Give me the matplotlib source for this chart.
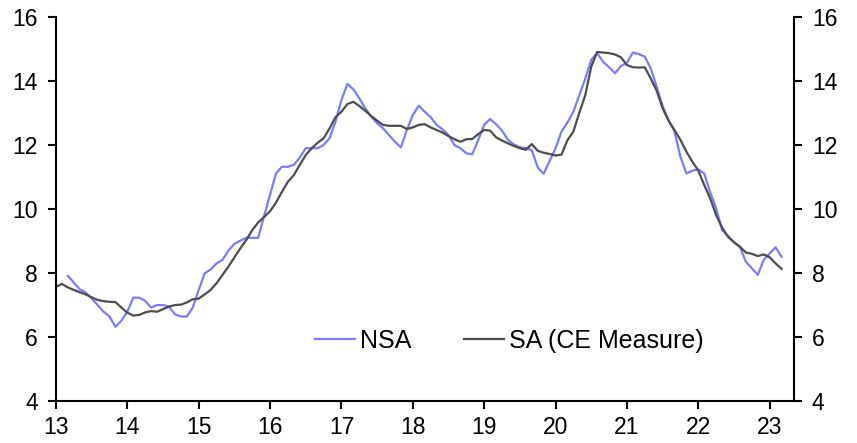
import numpy as np
import matplotlib
matplotlib.use("Agg")
import matplotlib.pyplot as plt

plt.rcParams['font.family'] = ['Liberation Sans', 'DejaVu Sans']

# monthly series, Jan 2013 onwards (x in years since 2000)
start_year = 13
sa_values = [
    7.57, 7.66, 7.55, 7.47, 7.40, 7.33, 7.24, 7.16, 7.12, 7.10, 7.09, 6.92,
    6.76, 6.67, 6.69, 6.77, 6.81, 6.79, 6.87, 6.95, 7.00, 7.01, 7.08, 7.18,
    7.20, 7.33, 7.47, 7.68, 7.94, 8.20, 8.49, 8.77, 9.03, 9.34, 9.58, 9.75,
    9.93, 10.20, 10.54, 10.85, 11.06, 11.38, 11.69, 11.90, 12.07, 12.21, 12.52, 12.87,
    13.04, 13.28, 13.35, 13.22, 13.07, 12.91, 12.76, 12.63, 12.60, 12.60, 12.60, 12.50,
    12.55, 12.63, 12.65, 12.55, 12.47, 12.39, 12.28, 12.18, 12.10, 12.18, 12.19, 12.34,
    12.47, 12.45, 12.24, 12.14, 12.05, 11.97, 11.90, 11.85, 12.03, 11.82, 11.76, 11.72,
    11.67, 11.70, 12.15, 12.42, 13.01, 13.56, 14.45, 14.91, 14.89, 14.87, 14.83, 14.74,
    14.50, 14.43, 14.42, 14.43, 14.08, 13.70, 13.15, 12.76, 12.47, 12.16, 11.79, 11.48,
    11.20, 10.75, 10.33, 9.81, 9.42, 9.13, 8.96, 8.82, 8.64, 8.60, 8.53, 8.58,
    8.49, 8.30, 8.13,
]
# NSA starts in Mar 2013
nsa_offset = 2
nsa_values = [
    7.91, 7.70, 7.49, 7.39, 7.21, 7.00, 6.79, 6.64, 6.32, 6.51,
    6.79, 7.23, 7.23, 7.13, 6.92, 7.00, 7.00, 6.95, 6.71, 6.64, 6.64, 6.92,
    7.47, 7.99, 8.11, 8.30, 8.41, 8.70, 8.91, 9.01, 9.10, 9.10, 9.10, 9.78,
    10.45, 11.11, 11.32, 11.32, 11.38, 11.61, 11.90, 11.90, 11.90, 12.00, 12.21, 12.73,
    13.41, 13.91, 13.74, 13.46, 13.15, 12.88, 12.68, 12.52, 12.31, 12.10, 11.93, 12.47,
    12.94, 13.23, 13.04, 12.87, 12.63, 12.49, 12.31, 12.00, 11.90, 11.74, 11.71, 12.16,
    12.63, 12.81, 12.65, 12.45, 12.16, 12.02, 11.93, 11.90, 11.84, 11.30, 11.10, 11.50,
    11.90, 12.42, 12.70, 13.04, 13.56, 14.08, 14.66, 14.87, 14.60, 14.43, 14.24, 14.47,
    14.57, 14.89, 14.84, 14.76, 14.40, 13.82, 13.22, 12.78, 12.42, 11.63, 11.11, 11.20,
    11.24, 11.11, 10.52, 10.02, 9.34, 9.16, 8.96, 8.82, 8.35, 8.15, 7.94, 8.41,
    8.61, 8.80, 8.51,
]
year_ticks = list(range(13, 24))
y_ticks = [4, 6, 8, 10, 12, 14, 16]

x_sa = start_year + np.arange(len(sa_values)) / 12
x_nsa = start_year + (nsa_offset + np.arange(len(nsa_values))) / 12

fig = plt.figure(figsize=(8.57, 4.43), dpi=100)
ax = fig.add_axes([0.0653, 0.0948, 0.8611, 0.8668])

ax.plot(x_nsa, nsa_values, color='#7b7bff', lw=1.6, label='NSA')
ax.plot(x_sa, sa_values, color='#4d4d4d', lw=1.6, label='SA (CE Measure)')

ax.set_xlim(13, 23.34)
ax.set_ylim(4, 16)
ax.set_xticks(year_ticks)
ax.set_yticks(y_ticks)

ax.spines['top'].set_visible(False)
for s in ['left', 'right', 'bottom']:
    ax.spines[s].set_linewidth(1.5)
ax.tick_params(axis='both', direction='out', length=6, width=1.5, labelsize=16.5)
ax.tick_params(axis='y', right=True, labelright=True, pad=7)
ax.tick_params(axis='x', pad=5)

ax.legend(loc='center', bbox_to_anchor=(0.614, 0.156), ncol=2, frameon=False,
          fontsize=18, handlelength=1.6, handletextpad=0.2, columnspacing=2.1)

plt.savefig('out.png', dpi=100)
